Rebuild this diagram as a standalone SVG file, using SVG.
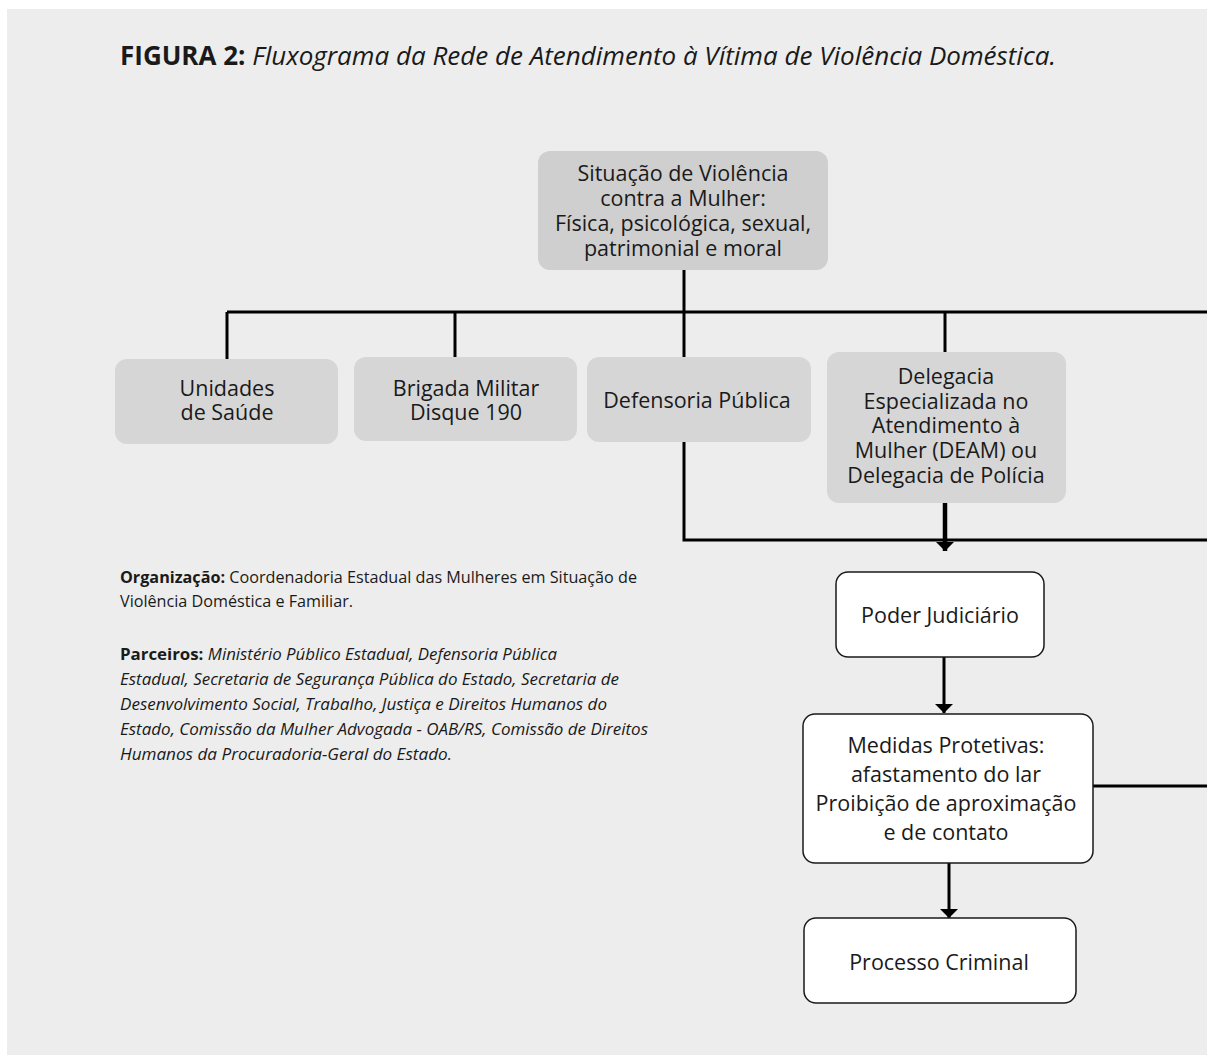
<svg xmlns="http://www.w3.org/2000/svg" width="1207" height="1055" viewBox="0 0 1207 1055">
<defs>
<style>
.t{font-family:"Open Sans","Noto Sans","DejaVu Sans",sans-serif;fill:#1a1a1a}
.n{font-size:21.5px;text-anchor:middle}
.gray1{fill:#cfcfcf}
.gray2{fill:#d6d6d6}
.white{fill:#ffffff;stroke:#1a1a1a;stroke-width:1.5}
.ln{fill:none;stroke:#000;stroke-width:3}
.lt{fill:none;stroke:#000;stroke-width:4.5}
.small{font-size:16px}
.it{font-style:italic}
</style>
<marker id="ah" viewBox="0 0 10 20" refX="10" refY="10" markerWidth="10" markerHeight="18" markerUnits="userSpaceOnUse" orient="auto">
<path d="M0,0 L10,10 L0,20 Z" fill="#000"/>
</marker>
</defs>
<rect x="0" y="0" width="1207" height="1055" fill="#ffffff"/>
<rect x="7" y="9" width="1200" height="1046" fill="#ededed"/>
<text class="t" x="120" y="65" font-size="26"><tspan font-weight="bold">FIGURA 2:</tspan> <tspan font-style="italic">Fluxograma da Rede de Atendimento à Vítima de Violência Doméstica.</tspan></text>

<g id="connectors">
<path class="ln" d="M684,270 V357"/>
<path class="ln" d="M227,312 H1207"/>
<path class="ln" d="M227,312 V359"/>
<path class="ln" d="M455,312 V357"/>
<path class="ln" d="M945,312 V352"/>
<path class="ln" d="M684,442 V540 H1207"/>
<path class="lt" d="M945,503 V551" marker-end="url(#ah)"/>
<path class="ln" d="M944,657 V713" marker-end="url(#ah)"/>
<path class="ln" d="M949,863 V918" marker-end="url(#ah)"/>
<path class="ln" d="M1093,786 H1207"/>
</g>

<g id="n-situacao">
<rect class="gray1" x="538" y="151" width="290" height="119" rx="12"/>
<text class="t n"><tspan x="683" y="181">Situação de Violência</tspan><tspan x="683" y="206">contra a Mulher:</tspan><tspan x="683" y="231">Física, psicológica, sexual,</tspan><tspan x="683" y="256">patrimonial e moral</tspan></text>
</g>
<g id="n-saude">
<rect class="gray2" x="115" y="359" width="223" height="85" rx="12"/>
<text class="t n"><tspan x="227" y="396">Unidades</tspan><tspan x="227" y="420">de Saúde</tspan></text>
</g>
<g id="n-brigada">
<rect class="gray2" x="354" y="357" width="223" height="84" rx="12"/>
<text class="t n"><tspan x="466" y="396">Brigada Militar</tspan><tspan x="466" y="420">Disque 190</tspan></text>
</g>
<g id="n-defensoria">
<rect class="gray2" x="587" y="357" width="224" height="85" rx="12"/>
<text class="t n" x="697" y="408">Defensoria Pública</text>
</g>
<g id="n-delegacia">
<rect class="gray2" x="827" y="352" width="239" height="151" rx="12"/>
<text class="t n"><tspan x="946" y="384">Delegacia</tspan><tspan x="946" y="409">Especializada no</tspan><tspan x="946" y="433">Atendimento à</tspan><tspan x="946" y="458">Mulher (DEAM) ou</tspan><tspan x="946" y="483">Delegacia de Polícia</tspan></text>
</g>
<g id="n-judiciario">
<rect class="white" x="836" y="572" width="208" height="85" rx="12"/>
<text class="t n" x="940" y="623">Poder Judiciário</text>
</g>
<g id="n-medidas">
<rect class="white" x="803" y="714" width="290" height="149" rx="12"/>
<text class="t n"><tspan x="946" y="753">Medidas Protetivas:</tspan><tspan x="946" y="782">afastamento do lar</tspan><tspan x="946" y="811">Proibição de aproximação</tspan><tspan x="946" y="840">e de contato</tspan></text>
</g>
<g id="n-processo">
<rect class="white" x="804" y="918" width="272" height="85" rx="12"/>
<text class="t n" x="939" y="970">Processo Criminal</text>
</g>

<g id="notes">
<text class="t small" x="120" y="583" textLength="517" lengthAdjust="spacingAndGlyphs"><tspan font-weight="bold">Organização:</tspan> Coordenadoria Estadual das Mulheres em Situação de</text>
<text class="t small" x="120" y="607" textLength="233" lengthAdjust="spacingAndGlyphs">Violência Doméstica e Familiar.</text>
<text class="t small" x="120" y="660" textLength="437" lengthAdjust="spacingAndGlyphs"><tspan font-weight="bold">Parceiros:</tspan> <tspan class="it">Ministério Público Estadual, Defensoria Pública</tspan></text>
<text class="t small it" x="120" y="685" textLength="499" lengthAdjust="spacingAndGlyphs">Estadual, Secretaria de Segurança Pública do Estado, Secretaria de</text>
<text class="t small it" x="120" y="710" textLength="487" lengthAdjust="spacingAndGlyphs">Desenvolvimento Social, Trabalho, Justiça e Direitos Humanos do</text>
<text class="t small it" x="120" y="735" textLength="528" lengthAdjust="spacingAndGlyphs">Estado, Comissão da Mulher Advogada - OAB/RS, Comissão de Direitos</text>
<text class="t small it" x="120" y="760" textLength="332" lengthAdjust="spacingAndGlyphs">Humanos da Procuradoria-Geral do Estado.</text>
</g>
</svg>
